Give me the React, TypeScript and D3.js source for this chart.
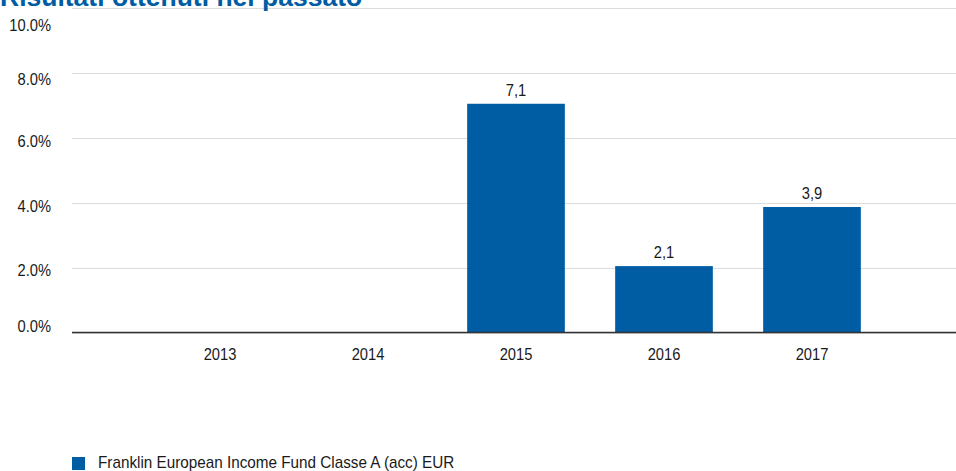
import React from "react";
import * as d3 from "d3";

const title = "Risultati ottenuti nel passato";
const years = ["2013", "2014", "2015", "2016", "2017"];
const values: (number | null)[] = [null, null, 7.06, 2.06, 3.88];
const yTicks = [0, 2, 4, 6, 8, 10];
const seriesName = "Franklin European Income Fund Classe A (acc) EUR";

const W = 956;
const H = 471;
const BLUE = "#005DA4";
const FONT = "'Liberation Sans', Arial, sans-serif";
const SX = 0.92;

function CText(props: {
  x: number;
  y: number;
  anchor?: "start" | "middle" | "end";
  dy?: string;
  sx?: number;
  children: React.ReactNode;
}) {
  return (
    <g transform={`translate(${props.x},${props.y}) scale(${props.sx ?? SX},1)`}>
      <text
        x={0}
        y={0}
        dy={props.dy}
        textAnchor={props.anchor || "start"}
        fontSize={16}
        fill="#1a1a1a"
      >
        {props.children}
      </text>
    </g>
  );
}

export default function App() {
  const y = d3.scaleLinear().domain([0, 10]).range([333, 8.3]);
  const x = d3
    .scaleBand<string>()
    .domain(years)
    .range([146, 886])
    .paddingInner(0.34)
    .paddingOuter(0.17);
  const fmtTick = (v: number) => d3.format(".1f")(v) + "%";
  const fmtLabel = (v: number) => d3.format(".1f")(v).replace(".", ",");
  const labelCenter = (v: number) => {
    const p = y(v);
    if (v === 10) return p + 17;
    if (v === 8) return p + 5.7;
    if (v === 0) return p - 6.3;
    return p + 2.8;
  };
  return (
    <svg
      width={W}
      height={H}
      style={{ position: "absolute", left: 0, top: 0, background: "#fff" }}
      fontFamily={FONT}
    >
      {yTicks.map((t) => (
        <line
          key={"g" + t}
          x1={72}
          x2={W}
          y1={Math.round(y(t)) + 0.5}
          y2={Math.round(y(t)) + 0.5}
          stroke="#dcdcdc"
          strokeWidth={1}
        />
      ))}
      {yTicks.map((t) => (
        <CText key={"t" + t} x={51} y={labelCenter(t)} dy="0.35em" anchor="end">
          {fmtTick(t)}
        </CText>
      ))}
      {years.map((yr, i) => {
        const v = values[i];
        if (v == null) return null;
        const bx = x(yr)!;
        return (
          <g key={"b" + yr}>
            <rect x={bx} y={y(v)} width={x.bandwidth()} height={y(0) - y(v)} fill={BLUE} />
            <CText x={bx + x.bandwidth() / 2} y={y(v) - 8} anchor="middle">
              {fmtLabel(v)}
            </CText>
          </g>
        );
      })}
      <line x1={72} x2={W} y1={332.5} y2={332.5} stroke="#333" strokeWidth={1.5} />
      {years.map((yr) => (
        <CText key={"x" + yr} x={x(yr)! + x.bandwidth() / 2} y={360} anchor="middle">
          {yr}
        </CText>
      ))}
      <text x={0} y={6} fontSize={26.5} fontWeight="bold" fill={BLUE}>
        {title}
      </text>
      <rect x={72} y={457} width={13} height={13} fill={BLUE} />
      <CText x={98} y={468} sx={0.955}>
        {seriesName}
      </CText>
    </svg>
  );
}
